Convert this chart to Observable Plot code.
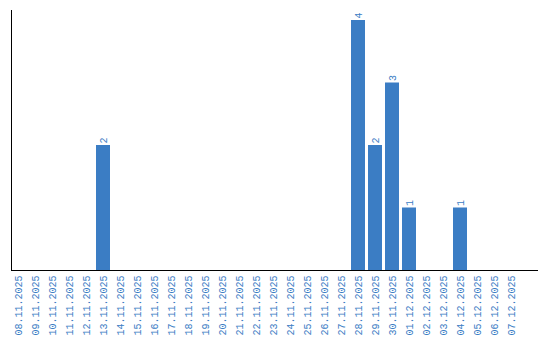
<!DOCTYPE html>
<html><head><meta charset="utf-8">
<script src="https://cdn.jsdelivr.net/npm/d3@7"></script>
<script src="https://cdn.jsdelivr.net/npm/@observablehq/plot@0.6"></script>
<style>body{margin:0;background:#fff;} svg{display:block;}</style>
</head><body><div id="chart"></div>
<script>
const dates = ["08.11.2025","09.11.2025","10.11.2025","11.11.2025","12.11.2025","13.11.2025","14.11.2025","15.11.2025","16.11.2025","17.11.2025","18.11.2025","19.11.2025","20.11.2025","21.11.2025","22.11.2025","23.11.2025","24.11.2025","25.11.2025","26.11.2025","27.11.2025","28.11.2025","29.11.2025","30.11.2025","01.12.2025","02.12.2025","03.12.2025","04.12.2025","05.12.2025","06.12.2025","07.12.2025"];
const counts = [0,0,0,0,0,2,0,0,0,0, 0,0,0,0,0,0,0,0,0,0, 4,2,3,1,0,0,1,0,0,0];
const data = dates.map((d, i) => ({date: d, count: counts[i]}));
const blue = "#3b7dc4";
const chart = Plot.plot({
  width: 540, height: 340,
  marginLeft: 11, marginRight: 2, marginTop: 10, marginBottom: 70,
  style: {background: "#fff"},
  x: {domain: dates, paddingInner: 0.176, paddingOuter: 0.588, align: 0, label: null},
  y: {domain: [0, 4.16], axis: null},
  marks: [
    Plot.barY(data, {x: "date", y: "count", fill: blue}),
    Plot.text(data.filter(d => d.count > 0), {x: "date", y: "count", text: d => String(d.count), rotate: -90, textAnchor: "start", dy: -2, fill: blue, fontSize: 10, fontFamily: "Liberation Mono"}),
    Plot.axisX({tickSize: 0, tickPadding: 5, tickRotate: -90, textAnchor: "end", fill: blue, fontSize: 10, fontFamily: "Liberation Mono", label: null}),
    Plot.ruleY([0], {stroke: "#000"}),
    Plot.frame({anchor: "left", stroke: "#000"})
  ]
});
document.getElementById("chart").appendChild(chart);
</script></body></html>
